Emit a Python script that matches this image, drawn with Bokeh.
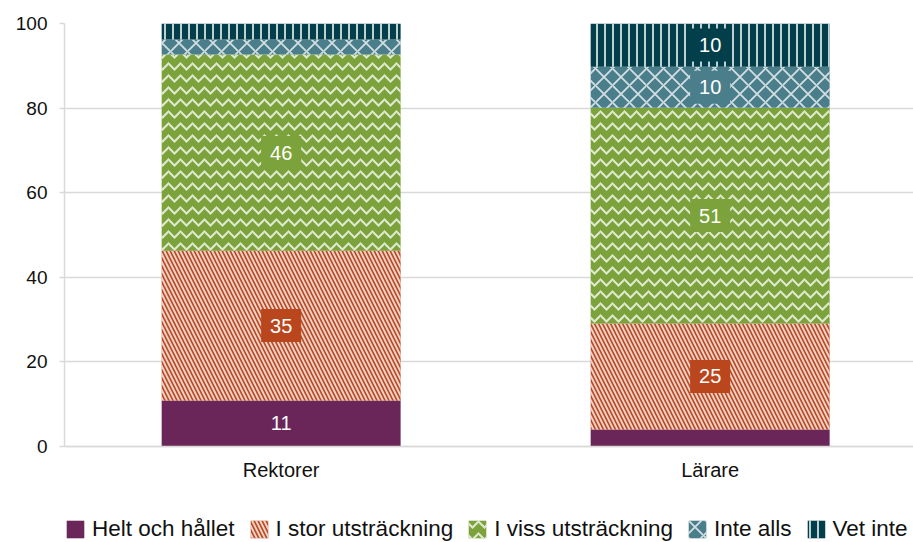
import numpy as np
from bokeh.plotting import figure
from bokeh.models import Range1d, FixedTicker, Legend, LegendItem, ColumnDataSource, LabelSet
from bokeh.embed import file_html
from bokeh.resources import INLINE
from bokeh.core.properties import value

categories = ["Rektorer", "Lärare"]
series_names = ["Helt och hållet", "I stor utsträckning", "I viss utsträckning", "Inte alls", "Vet inte"]
helt = [10.9, 4.0]
stor = [35.4, 25.1]
viss = [46.4, 51.0]
inte_alls = [3.5, 9.7]
vet_inte = [3.8, 10.2]
y_ticks = [0, 20, 40, 60, 80, 100]

colors = ["#6A2659", "#B9461D", "#7BA23B", "#4A7E8A", "#023F4B"]
hatches = [None, "\\", "v", "x", "|"]
hatch_scales = [8, 8, 12, 17, 8]
hatch_weights = [1, 2.0, 2.0, 1.8, 2.0]

series_values = [helt, stor, viss, inte_alls, vet_inte]

x_pos = [i + 0.5 for i in range(len(categories))]

# the frame reaches down to the page bottom, so that the legend can sit inside it
p = figure(x_range=Range1d(-0.005, 1.974), y_range=Range1d(-22.7, 100),
           frame_width=849, frame_height=519,
           output_backend="svg", toolbar_location=None,
           min_border_left=64, min_border_right=0, min_border_top=23, min_border_bottom=0)
p.outline_line_color = None
p.background_fill_color = "white"

# grid
p.xgrid.grid_line_color = None
p.ygrid.grid_line_color = "#D9D9D9"
p.ygrid.grid_line_width = 1.5
p.ygrid.ticker = FixedTicker(ticks=y_ticks)

# y axis
p.yaxis.ticker = FixedTicker(ticks=y_ticks)
p.yaxis.bounds = (0, 100)
p.yaxis.axis_line_color = "#D9D9D9"
p.yaxis.axis_line_width = 1.5
p.yaxis.major_tick_line_color = "#D9D9D9"
p.yaxis.major_tick_line_width = 1.5
p.yaxis.major_tick_in = 0
p.yaxis.major_tick_out = 5
p.yaxis.minor_tick_line_color = None
p.yaxis.major_label_standoff = 12
p.yaxis.major_label_text_font = "Liberation Sans"
p.yaxis.major_label_text_font_size = "19px"
p.yaxis.major_label_text_color = "#111111"

# x axis, fixed at y = 0
p.xaxis.fixed_location = 0
p.xaxis.ticker = FixedTicker(ticks=x_pos)
p.xaxis.major_label_overrides = {x: c for x, c in zip(x_pos, categories)}
p.xaxis.axis_line_color = "#D9D9D9"
p.xaxis.axis_line_width = 1.5
p.xaxis.major_tick_line_color = None
p.xaxis.major_tick_in = 0
p.xaxis.major_tick_out = 0
p.xaxis.minor_tick_line_color = None
p.xaxis.minor_tick_in = 0
p.xaxis.minor_tick_out = 0
p.xaxis.major_label_standoff = 13
p.xaxis.major_label_text_font = "Liberation Sans"
p.xaxis.major_label_text_font_size = "20px"
p.xaxis.major_label_text_color = "#111111"

bar_w = 0.557
bottoms = np.zeros(len(categories))
renderers = []
for name, vals, col, hp, hs, hw in zip(series_names, series_values, colors, hatches, hatch_scales, hatch_weights):
    vals = np.array(vals, dtype=float)
    tops = bottoms + vals
    src = ColumnDataSource(dict(x=x_pos, bottom=bottoms.copy(), top=tops))
    kw = {}
    if hp is not None:
        kw = dict(hatch_pattern=hp, hatch_color="white", hatch_alpha=0.75,
                  hatch_scale=hs, hatch_weight=hw)
    r = p.vbar(x="x", bottom="bottom", top="top", width=bar_w, source=src,
               fill_color=col, line_color=None, **kw)
    renderers.append(r)
    # labels for values of about 10 and more
    keep = vals >= 9.5
    lx = [x for x, k in zip(x_pos, keep) if k]
    ly = [(b + t) / 2 for b, t, k in zip(bottoms, tops, keep) if k]
    lt = [str(int(round(v))) for v, k in zip(vals, keep) if k]
    if lx:
        lsrc = ColumnDataSource(dict(x=lx, y=ly, t=lt))
        p.rect(x="x", y="y", width=40, height=33, width_units="screen", height_units="screen",
               source=lsrc, fill_color=col, line_color=None)
        p.add_layout(LabelSet(x="x", y="y", text="t", source=lsrc, text_align="center",
                              text_baseline="middle", text_color="white",
                              text_font=value("Liberation Sans"), text_font_size=value("20px")))
    bottoms = tops

legend = Legend(items=[LegendItem(label=n, renderers=[r]) for n, r in zip(series_names, renderers)],
                orientation="horizontal", location=(0, 0))
legend.padding = 2
legend.margin = 0
legend.spacing = 13
legend.glyph_width = 22
legend.glyph_height = 22
legend.label_standoff = 6
legend.label_text_font = "Liberation Sans"
legend.label_text_font_size = "22.5px"
legend.label_text_color = "#111111"
legend.border_line_color = None
legend.background_fill_alpha = 0
p.add_layout(legend)

open("out.html", "w").write(file_html(p, INLINE))
